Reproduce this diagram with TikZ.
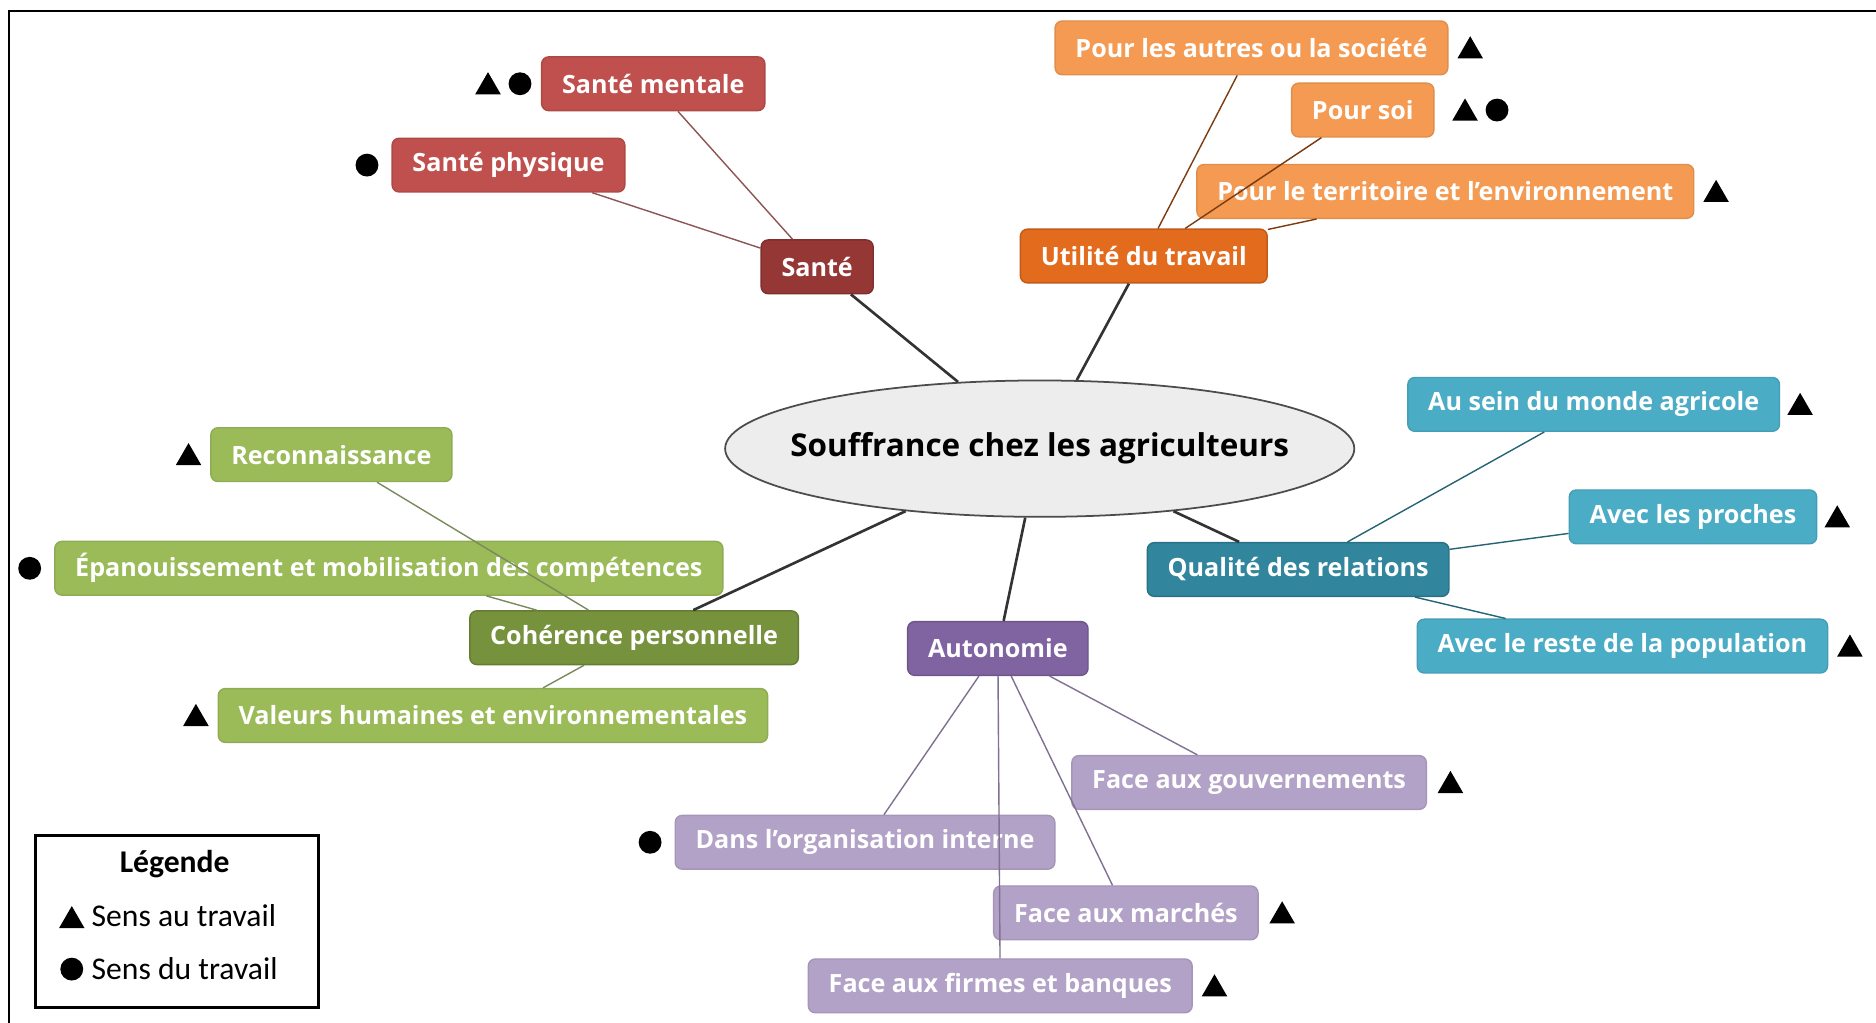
\documentclass[tikz,border=0pt]{standalone}
\usepackage{fontspec}
\setmainfont{Open Sans}
\newfontfamily\legfont{Carlito}
\usepackage{tikz}
\usetikzlibrary{positioning}
\usetikzlibrary{shapes.geometric}

\definecolor{santeP}{HTML}{953735}
\definecolor{santeC}{HTML}{C0504D}
\definecolor{utilP}{HTML}{E26B1E}
\definecolor{utilC}{HTML}{F49A52}
\definecolor{relP}{HTML}{31859C}
\definecolor{relC}{HTML}{4BACC6}
\definecolor{cohP}{HTML}{76923C}
\definecolor{cohC}{HTML}{9BBB59}
\definecolor{autoP}{HTML}{8064A2}
\definecolor{autoC}{HTML}{B3A2C7}

\tikzset{
  box/.style={rounded corners=2pt, text=white, inner xsep=5.8pt, inner ysep=0pt,
    minimum height=15.3pt, font=\fontsize{7.15}{9}\selectfont\bfseries},
  santebox/.style={box, fill=santeP, draw=santeP!85!black},
  santeleaf/.style={box, fill=santeC, draw=santeC!90!black},
  utilbox/.style={box, fill=utilP, draw=utilP!85!black},
  utilleaf/.style={box, fill=utilC, draw=utilC!92!black},
  relbox/.style={box, fill=relP, draw=relP!85!black},
  relleaf/.style={box, fill=relC, draw=relC!92!black},
  cohbox/.style={box, fill=cohP, draw=cohP!85!black},
  cohleaf/.style={box, fill=cohC, draw=cohC!92!black},
  autobox/.style={box, fill=autoP, draw=autoP!85!black},
  autoleaf/.style={box, fill=autoC, draw=autoC!92!black},
  tri/.style={regular polygon, regular polygon sides=3, fill=black, minimum size=8.4pt, inner sep=0pt, yshift=-0.9pt},
  dot/.style={circle, fill=black, minimum size=6.5pt, inner sep=0pt},
  trunk/.style={line width=0.75pt, draw=black!80},
  twig/.style={line width=0.4pt}
}

\begin{document}
\begin{tikzpicture}[x=0.011964cm, y=-0.011964cm]
\useasboundingbox (0,0) rectangle (1568,855);
\draw[line width=0.6pt] (1568,9) -- (7.5,9) -- (7.5,855);

\node[ellipse, draw=black!70, fill=black!7, line width=0.5pt, minimum width=179pt, minimum height=38.8pt,
  inner xsep=-10pt, inner ysep=0pt, font=\fontsize{8.95}{11}\selectfont\bfseries] (souf) at (869,375) {Souffrance chez les agriculteurs};

\node[santebox] (sante) at (683,223) {Santé};
\node[santeleaf] (smentale) at (546,70) {Santé mentale};
\node[santeleaf] (sphys) at (425,138) {Santé physique};

\node[utilbox] (util) at (956,214) {Utilité du travail};
\node[utilleaf] (autres) at (1046,40) {Pour les autres ou la société};
\node[utilleaf] (soi) at (1139,92) {Pour soi};
\node[utilleaf] (terr) at (1208,160) {Pour le territoire et l'environnement};

\node[relbox] (rel) at (1085,476) {Qualité des relations};
\node[relleaf] (monde) at (1332,338) {Au sein du monde agricole};
\node[relleaf] (proches) at (1415,432) {Avec les proches};
\node[relleaf] (reste) at (1356,540) {Avec le reste de la population};

\node[cohbox] (coh) at (530,533) {Cohérence personnelle};
\node[cohleaf] (recon) at (277,380) {Reconnaissance};
\node[cohleaf] (epan) at (325,475) {Épanouissement et mobilisation des compétences};
\node[cohleaf] (valeurs) at (412,598) {Valeurs humaines et environnementales};

\node[autobox] (auto) at (834,542) {Autonomie};
\node[autoleaf] (gouv) at (1044,654) {Face aux gouvernements};
\node[autoleaf] (orga) at (723,704) {Dans l'organisation interne};
\node[autoleaf] (marches) at (941,763) {Face aux marchés};
\node[autoleaf] (firmes) at (836,824) {Face aux firmes et banques};

\draw[trunk] (souf) -- (sante);
\draw[trunk] (souf) -- (util);
\draw[trunk] (souf) -- (rel);
\draw[trunk] (souf) -- (coh);
\draw[trunk] (souf) -- (auto);

\draw[twig, draw=santeP!60!gray] (sante) -- (smentale);
\draw[twig, draw=santeP!60!gray] (sante) -- (sphys);
\draw[twig, draw=utilP!55!black] (util) -- (autres);
\draw[twig, draw=utilP!55!black] (util) -- (soi);
\draw[twig, draw=utilP!55!black] (util) -- (terr);
\draw[twig, draw=relP!75!black] (rel) -- (monde);
\draw[twig, draw=relP!75!black] (rel) -- (proches);
\draw[twig, draw=relP!75!black] (rel) -- (reste);
\draw[twig, draw=cohP!55!gray] (coh) -- (recon);
\draw[twig, draw=cohP!55!gray] (coh) -- (epan);
\draw[twig, draw=cohP!55!gray] (coh) -- (valeurs);
\draw[twig, draw=autoP!55!gray] (auto) -- (gouv);
\draw[twig, draw=autoP!55!gray] (auto) -- (orga);
\draw[twig, draw=autoP!55!gray] (auto) -- (marches);
\draw[twig, draw=autoP!55!gray] (auto) -- (firmes);

\node[dot, left=2.5pt of smentale] (smentaleD) {};
\node[tri, left=3pt of smentaleD] (smentaleT) {};
\node[dot, left=3.5pt of sphys] (sphysD) {};
\node[tri, right=3.5pt of autres] (autresT) {};
\node[tri, right=6pt of soi] (soiT) {};
\node[dot, right=3pt of soiT, yshift=0.9pt] (soiD) {};
\node[tri, right=3.5pt of terr] (terrT) {};
\node[tri, right=3pt of monde] (mondeT) {};
\node[tri, right=3pt of proches] (prochesT) {};
\node[tri, right=3.5pt of reste] (resteT) {};
\node[tri, left=3.5pt of recon] (reconT) {};
\node[dot, left=3.5pt of epan] (epanD) {};
\node[tri, left=3.5pt of valeurs] (valeursT) {};
\node[tri, right=4pt of gouv] (gouvT) {};
\node[dot, left=3.5pt of orga] (orgaD) {};
\node[tri, right=4pt of marches] (marchesT) {};
\node[tri, right=3.5pt of firmes] (firmesT) {};

\draw[line width=0.8pt] (30,698) rectangle (266,842);
\node[font=\legfont\bfseries\fontsize{9}{11}\selectfont] (legtitle) at (146,722) {Légende};
\node[tri] (legT) at (60,767) {};
\node[anchor=west, inner sep=0pt, font=\legfont\fontsize{9}{11}\selectfont] (legA) at (76,765) {Sens au travail};
\node[dot] (legD) at (60,810) {};
\node[anchor=west, inner sep=0pt, font=\legfont\fontsize{9}{11}\selectfont] (legB) at (76,810) {Sens du travail};
\end{tikzpicture}
\end{document}
